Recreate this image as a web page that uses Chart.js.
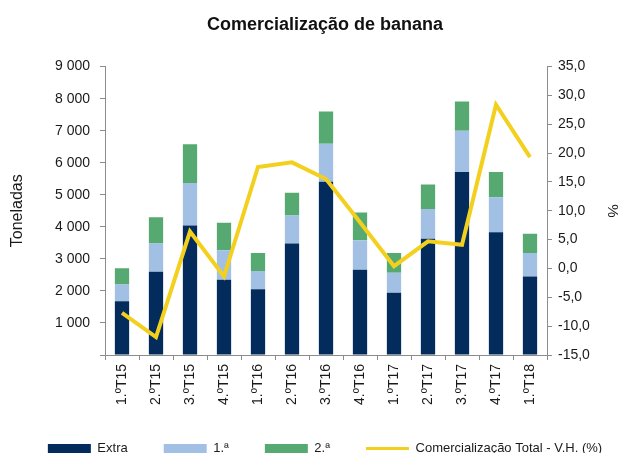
<!DOCTYPE html>
<html>
<head>
<meta charset="utf-8">
<script src="https://cdn.jsdelivr.net/npm/chart.js@4"></script>
<style>
  html, body { margin: 0; padding: 0; background: #fff; overflow: hidden; }
  #wrap { width: 650px; height: 465px; }
</style>
</head>
<body>
<div id="wrap"><canvas id="chart" width="650" height="465"></canvas></div>
<script>
// quarters
const quarters = ["1.ºT15", "2.ºT15", "3.ºT15", "4.ºT15", "1.ºT16", "2.ºT16", "3.ºT16",
                  "4.ºT16", "1.ºT17", "2.ºT17", "3.ºT17", "4.ºT17", "1.ºT18"];

// toneladas por categoria (stacked)
const extra    = [1680, 2600, 4040, 2350, 2050, 3480, 5410, 2660, 1940, 3630, 5710, 3830, 2450];
const primeira = [ 520,  880, 1330,  920,  570,  870, 1180,  920,  625,  930, 1290, 1090,  730];
const segunda  = [ 510,  820, 1210,  860,  560,  710, 1010,  870,  615,  760,  910,  790,  600];

// variação homóloga (%)
const varHomologa = [-7.7, -11.9, 6.4, -1.4, 17.6, 18.4, 15.5, 8.0, 0.4, 4.7, 4.1, 28.4, 19.3];

const FONT = "Arial, 'Liberation Sans', sans-serif";
const AXIS = "#8c8c8c";
const TXT = "#1a1a1a";

const thousands = v => v === 0 ? "" : String(v).replace(/\B(?=(\d{3})+(?!\d))/g, " ");
const pct = v => v.toFixed(1).replace(".", ",");

new Chart(document.getElementById("chart"), {
  type: "bar",
  data: {
    labels: quarters,
    datasets: [
      { label: "Extra", data: extra, backgroundColor: "#032c5c", yAxisID: "y", order: 1 },
      { label: "1.ª", data: primeira, backgroundColor: "#a2bfe4", yAxisID: "y", order: 1 },
      { label: "2.ª", data: segunda, backgroundColor: "#56aa71", yAxisID: "y", order: 1 },
      {
        type: "line",
        label: "Comercialização Total - V.H. (%)",
        data: varHomologa,
        yAxisID: "y1",
        borderColor: "#f4d01e",
        backgroundColor: "#f4d01e",
        borderWidth: 4,
        pointRadius: 0,
        tension: 0,
        order: 0
      }
    ]
  },
  options: {
    responsive: false,
    animation: false,
    datasets: { bar: { categoryPercentage: 1, barPercentage: 0.42 } },
    layout: { padding: 0 },
    plugins: {
      title: {
        display: true,
        text: "Comercialização de banana",
        color: "#111",
        font: { family: FONT, size: 18, weight: "bold" },
        padding: { top: 14, bottom: 31 }
      },
      legend: {
        position: "bottom",
        labels: {
          color: TXT,
          font: { family: FONT, size: 13 },
          padding: 36,
          usePointStyle: true,
          pointStyleWidth: 43,
          boxHeight: 9,
          generateLabels: chart => chart.data.datasets.map((ds, i) => ({
            text: ds.label,
            fillStyle: ds.backgroundColor,
            strokeStyle: ds.type === "line" ? ds.borderColor : ds.backgroundColor,
            lineWidth: ds.type === "line" ? 3 : 0,
            pointStyle: ds.type === "line" ? "line" : "rect",
            fontColor: TXT,
            hidden: false,
            datasetIndex: i
          }))
        }
      },
      tooltip: { enabled: false }
    },
    scales: {
      x: {
        stacked: true,
        afterFit: s => { s.height = 51; },
        grid: { drawOnChartArea: false, color: AXIS, tickLength: 5, offset: true },
        border: { color: AXIS },
        ticks: {
          color: TXT,
          font: { family: FONT, size: 14 },
          minRotation: 90,
          maxRotation: 90,
          padding: 4,
          autoSkip: false
        }
      },
      y: {
        stacked: true,
        position: "left",
        min: 0,
        max: 9000,
        afterFit: s => { s.width = 105; },
        grid: { drawOnChartArea: false, color: AXIS, tickLength: 5 },
        border: { color: AXIS },
        ticks: {
          stepSize: 1000,
          color: TXT,
          font: { family: FONT, size: 14 },
          padding: 10,
          callback: v => thousands(v)
        },
        title: {
          display: true,
          text: "Toneladas",
          color: TXT,
          font: { family: FONT, size: 16 },
          padding: { top: 8, bottom: 0 }
        }
      },
      y1: {
        position: "right",
        min: -15,
        max: 35,
        afterFit: s => { s.width = 103; },
        grid: { drawOnChartArea: false, color: AXIS, tickLength: 5 },
        border: { color: AXIS },
        ticks: {
          stepSize: 5,
          color: TXT,
          font: { family: FONT, size: 14 },
          padding: 6,
          callback: v => pct(v)
        },
        title: {
          display: true,
          text: "%",
          color: TXT,
          font: { family: FONT, size: 15 },
          padding: { top: 29, bottom: 0 }
        }
      }
    }
  }
});
</script>
</body>
</html>
